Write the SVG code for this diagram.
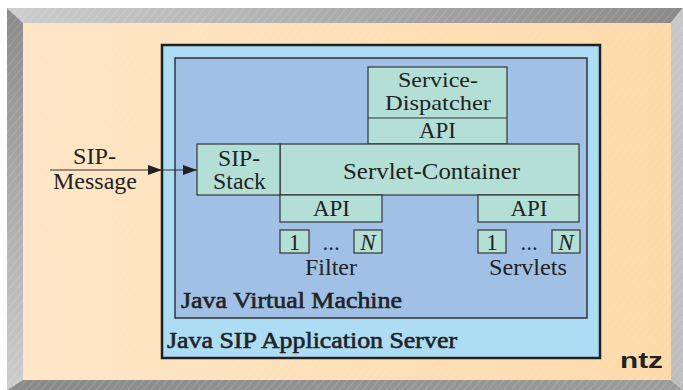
<svg xmlns="http://www.w3.org/2000/svg" width="683" height="390" viewBox="0 0 683 390">
<style>
.t{font-family:"Liberation Serif","DejaVu Serif",serif;font-size:23px;fill:#222;text-anchor:middle}
.s{font-size:21px}
.b{font-family:"Liberation Serif","DejaVu Serif",serif;font-size:23px;fill:#222;stroke:#222;stroke-width:0.6}
.n{fill:#B3DFD6;stroke:#333;stroke-width:1.2}
.c{stroke:#333;stroke-width:1.2;fill:none}
</style>
<defs>
<linearGradient id="peach" x1="0" y1="0" x2="1" y2="0">
<stop offset="0" stop-color="#FEE6C6"/><stop offset="1" stop-color="#FDDAAA"/>
</linearGradient>
<linearGradient id="topB" x1="0" y1="0" x2="1" y2="0">
<stop offset="0" stop-color="#CDCDCD"/><stop offset="1" stop-color="#8A8A8A"/>
</linearGradient>
<linearGradient id="leftB" x1="0" y1="0" x2="0" y2="1">
<stop offset="0" stop-color="#8A8A8A"/><stop offset="1" stop-color="#CDCDCD"/>
</linearGradient>
<linearGradient id="botB" x1="0" y1="0" x2="1" y2="0">
<stop offset="0" stop-color="#8A8A8A"/><stop offset="1" stop-color="#9C9C9C"/>
</linearGradient>
<linearGradient id="rightB" x1="0" y1="0" x2="0" y2="1">
<stop offset="0" stop-color="#C8C8C8"/><stop offset="1" stop-color="#BDBDBD"/>
</linearGradient>
<pattern id="hatch" width="6" height="6" patternUnits="userSpaceOnUse" patternTransform="rotate(40)">
<line x1="0" y1="0" x2="0" y2="6" stroke="#ffffff" stroke-opacity="0.18" stroke-width="1.5"/>
</pattern>
<marker id="arr" markerWidth="14" markerHeight="10" refX="14" refY="5" orient="auto" markerUnits="userSpaceOnUse">
<path d="M0,0 L14,5 L0,10 Z" fill="#222"/>
</marker>
</defs>

<g id="frame">
<rect x="0" y="0" width="683" height="390" fill="#ffffff"/>
<polygon points="7,8 683,8 671,23 23,23" fill="url(#topB)"/>
<polygon points="7,8 23,23 23,380 7,390" fill="url(#leftB)"/>
<polygon points="23,380 671,380 683,390 7,390" fill="url(#botB)"/>
<polygon points="683,8 683,390 671,380 671,23" fill="url(#rightB)"/>
<polygon points="7,8 683,8 683,390 7,390" fill="url(#hatch)"/>
<rect x="23" y="23" width="648" height="357" fill="url(#peach)"/>
<rect x="23" y="23" width="648" height="357" fill="url(#hatch)" opacity="0.6"/>
<text x="663" y="368" text-anchor="end" font-family="Liberation Sans,Arial,sans-serif" font-weight="bold" font-size="22" fill="#222" textLength="43" lengthAdjust="spacingAndGlyphs">ntz</text>
</g>

<g id="server">
<rect x="162" y="45" width="438" height="313" fill="#ADDCF5" stroke="#222" stroke-width="2.5"/>
<text class="b" x="167" y="348" textLength="290" lengthAdjust="spacingAndGlyphs">Java SIP Application Server</text>
</g>

<g id="jvm">
<rect x="175" y="58" width="412" height="260" fill="#A0C1E5" stroke="#333" stroke-width="1.5"/>
<text class="b" x="181" y="308" textLength="221" lengthAdjust="spacingAndGlyphs">Java Virtual Machine</text>
</g>

<g id="service-dispatcher">
<rect class="n" x="368" y="67" width="139" height="77"/>
<line x1="368" y1="118" x2="507" y2="118" stroke="#333" stroke-width="1.2"/>
<text class="t s" x="438" y="87" textLength="80" lengthAdjust="spacingAndGlyphs">Service-</text>
<text class="t s" x="438" y="110" textLength="106" lengthAdjust="spacingAndGlyphs">Dispatcher</text>
<text class="t" x="437.5" y="138" textLength="37" lengthAdjust="spacingAndGlyphs">API</text>
</g>

<g id="servlet-container">
<rect class="n" x="280" y="144" width="299" height="51"/>
<text class="t" x="431.5" y="179" textLength="177" lengthAdjust="spacingAndGlyphs">Servlet-Container</text>
</g>

<g id="sip-stack">
<rect class="n" x="197" y="144" width="83" height="51"/>
<text class="t" x="239" y="166" textLength="42" lengthAdjust="spacingAndGlyphs">SIP-</text>
<text class="t" x="239.5" y="189" textLength="53" lengthAdjust="spacingAndGlyphs">Stack</text>
</g>

<g id="api-filter">
<rect class="n" x="280" y="195" width="102" height="27"/>
<text class="t" x="331.5" y="216" textLength="37" lengthAdjust="spacingAndGlyphs">API</text>
</g>

<g id="api-servlets">
<rect class="n" x="478" y="195" width="101" height="27"/>
<text class="t" x="529" y="216" textLength="37" lengthAdjust="spacingAndGlyphs">API</text>
</g>

<g id="filter">
<rect class="n" x="280" y="230" width="29" height="23"/>
<text class="t" x="294.5" y="250">1</text>
<text class="t" x="331" y="250">...</text>
<rect class="n" x="354" y="230" width="28" height="23"/>
<text class="t" x="368" y="250" font-style="italic">N</text>
<text class="t" x="331" y="275" textLength="52" lengthAdjust="spacingAndGlyphs">Filter</text>
</g>

<g id="servlets">
<rect class="n" x="478" y="230" width="28" height="23"/>
<text class="t" x="492" y="250">1</text>
<text class="t" x="529" y="250">...</text>
<rect class="n" x="552" y="230" width="28" height="23"/>
<text class="t" x="566" y="250" font-style="italic">N</text>
<text class="t" x="528" y="275" textLength="78" lengthAdjust="spacingAndGlyphs">Servlets</text>
</g>

<g id="sip-message">
<text class="t" x="94.5" y="164" textLength="43" lengthAdjust="spacingAndGlyphs">SIP-</text>
<text class="t" x="95" y="189" textLength="84" lengthAdjust="spacingAndGlyphs">Message</text>
</g>

<g id="connectors">
<line class="c" x1="50" y1="170" x2="162" y2="170" marker-end="url(#arr)"/>
<line class="c" x1="162" y1="170" x2="197" y2="170" marker-end="url(#arr)"/>
</g>
</svg>
